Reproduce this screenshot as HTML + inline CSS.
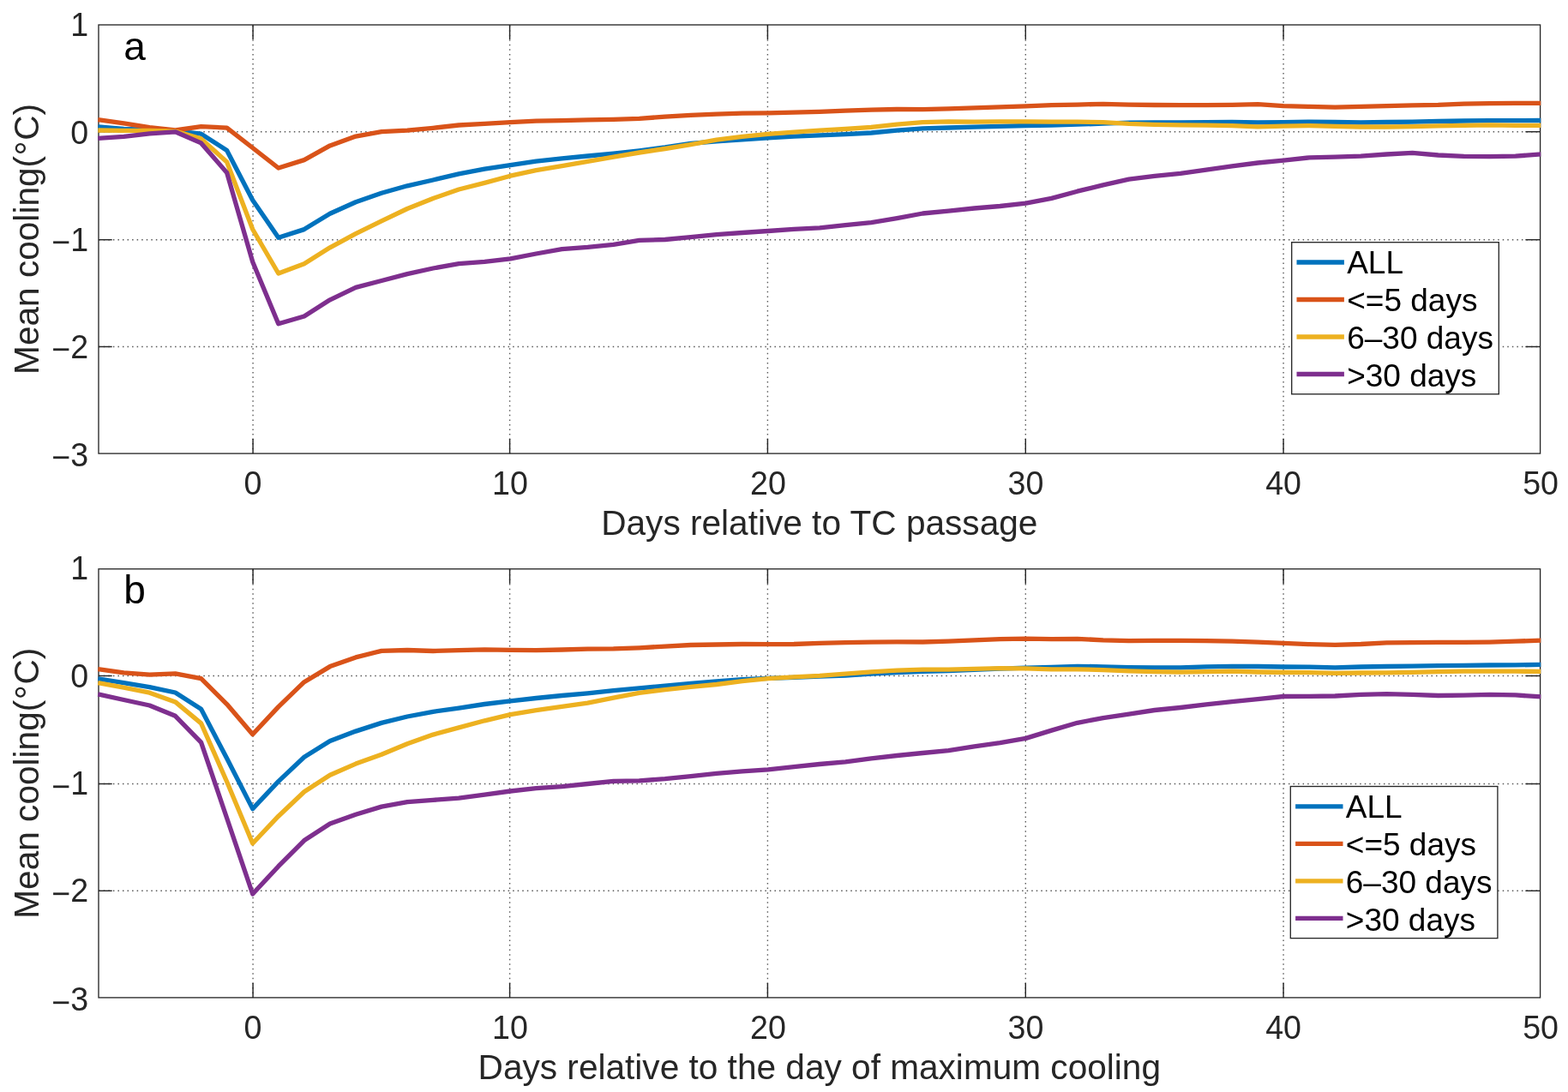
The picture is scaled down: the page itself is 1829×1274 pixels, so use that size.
<!DOCTYPE html>
<html lang="en">
<head>
<meta charset="utf-8">
<title>Mean cooling relative to TC passage</title>
<style>
html,body{margin:0;padding:0;background:#fff;}
body{width:1829px;height:1274px;overflow:hidden;}
svg{display:block;}
text{font-family:"Liberation Sans", Arial, Helvetica, sans-serif;fill:#262626;}
.tick{font-size:37.6px;}
.lab{font-size:40.6px;}
.leg{font-size:37px;fill:#000;}
.panel{font-size:46px;fill:#000;}
.ax{stroke:#262626;stroke-width:1.33;fill:none;}
.tk{stroke:#262626;stroke-width:1.45;fill:none;}
.grid{stroke:#595959;stroke-width:1.4;fill:none;}
.gh{stroke-dasharray:1.5 4.0508;}
.gv{stroke-dasharray:1.5 4.0391;}
.ln{fill:none;stroke-width:5.33;stroke-linejoin:round;stroke-linecap:butt;}
</style>
</head>
<body>
<svg xmlns="http://www.w3.org/2000/svg" width="1829" height="1274" viewBox="0 0 1829 1274">
<rect x="0" y="0" width="1829" height="1274" fill="#fff"/>
<defs>
<clipPath id="clip-a"><rect x="112" y="28.33" width="1685.3" height="501.43"/></clipPath>
<clipPath id="clip-b"><rect x="112" y="663.13" width="1685.3" height="501.43"/></clipPath>
</defs>
<g id="panel-a">
<line class="grid gv" x1="295.07" y1="29.65" x2="295.07" y2="529.1"/>
<line class="grid gv" x1="594.6" y1="29.65" x2="594.6" y2="529.1"/>
<line class="grid gv" x1="895.4" y1="29.65" x2="895.4" y2="529.1"/>
<line class="grid gv" x1="1196.3" y1="29.65" x2="1196.3" y2="529.1"/>
<line class="grid gv" x1="1497.06" y1="29.65" x2="1497.06" y2="529.1"/>
<line class="grid gh" x1="115.24" y1="153.7" x2="1796.6" y2="153.7"/>
<line class="grid gh" x1="115.24" y1="279.7" x2="1796.6" y2="279.7"/>
<line class="grid gh" x1="115.24" y1="404.5" x2="1796.6" y2="404.5"/>
<rect class="ax" x="115" y="29" width="1681.6" height="500.1"/>
<line class="tk" x1="295.07" y1="529.1" x2="295.07" y2="512"/>
<line class="tk" x1="295.07" y1="29" x2="295.07" y2="46.1"/>
<line class="tk" x1="594.6" y1="529.1" x2="594.6" y2="512"/>
<line class="tk" x1="594.6" y1="29" x2="594.6" y2="46.1"/>
<line class="tk" x1="895.4" y1="529.1" x2="895.4" y2="512"/>
<line class="tk" x1="895.4" y1="29" x2="895.4" y2="46.1"/>
<line class="tk" x1="1196.3" y1="529.1" x2="1196.3" y2="512"/>
<line class="tk" x1="1196.3" y1="29" x2="1196.3" y2="46.1"/>
<line class="tk" x1="1497.06" y1="529.1" x2="1497.06" y2="512"/>
<line class="tk" x1="1497.06" y1="29" x2="1497.06" y2="46.1"/>
<line class="tk" x1="115" y1="153.7" x2="130.7" y2="153.7"/>
<line class="tk" x1="1796.6" y1="153.7" x2="1779.4" y2="153.7"/>
<line class="tk" x1="115" y1="279.7" x2="130.7" y2="279.7"/>
<line class="tk" x1="1796.6" y1="279.7" x2="1779.4" y2="279.7"/>
<line class="tk" x1="115" y1="404.5" x2="130.7" y2="404.5"/>
<line class="tk" x1="1796.6" y1="404.5" x2="1779.4" y2="404.5"/>
<g clip-path="url(#clip-a)">
<polyline class="ln" stroke="#0072BD" points="114.33,148 144.39,150.3 174.45,151.5 204.51,152.9 234.58,156.2 264.64,175.5 294.7,233.4 324.76,277.2 354.82,267.6 384.89,249.2 414.95,235.7 445.01,225.3 475.07,216.8 505.13,210 535.2,202.9 565.26,197.2 595.32,192.6 625.38,188.1 655.44,184.8 685.51,182 715.57,179.1 745.63,175.8 775.69,172 805.75,167.4 835.82,164.9 865.88,162.9 895.94,160.8 926,159.1 956.06,157.8 986.13,156.6 1016.19,155 1046.25,152.2 1076.31,149.9 1106.37,149 1136.44,148.2 1166.5,147.4 1196.56,146.5 1226.62,146 1256.68,145.2 1286.75,144.1 1316.81,143.2 1346.87,142.9 1376.93,143 1406.99,142.7 1437.06,142.5 1467.12,142.8 1497.18,142.7 1527.24,142.1 1557.3,142.5 1587.37,143 1617.43,142.5 1647.49,142.1 1677.55,141.5 1707.61,141 1737.68,140.6 1767.74,140.6 1797.8,140.5"/>
<polyline class="ln" stroke="#D95319" points="114.33,139.6 144.39,143.8 174.45,148.7 204.51,152 234.58,147.6 264.64,149.1 294.7,172.5 324.76,196 354.82,186.6 384.89,169.9 414.95,159.1 445.01,153.6 475.07,152.1 505.13,149.3 535.2,146 565.26,144.4 595.32,142.7 625.38,141.1 655.44,140.6 685.51,139.9 715.57,139.4 745.63,138.3 775.69,136.1 805.75,134.4 835.82,133.1 865.88,132.2 895.94,131.9 926,131.1 956.06,130.3 986.13,129.1 1016.19,128.1 1046.25,127.5 1076.31,127.6 1106.37,126.8 1136.44,125.9 1166.5,124.8 1196.56,123.8 1226.62,122.6 1256.68,122.1 1286.75,121.3 1316.81,122.1 1346.87,122.5 1376.93,122.7 1406.99,122.7 1437.06,122.4 1467.12,121.6 1497.18,123.6 1527.24,124.4 1557.3,125.1 1587.37,124.4 1617.43,123.6 1647.49,122.9 1677.55,122.4 1707.61,121.1 1737.68,120.6 1767.74,120.4 1797.8,120.3"/>
<polyline class="ln" stroke="#EDB120" points="114.33,152 144.39,152.3 174.45,152.3 204.51,153.1 234.58,161.9 264.64,189 294.7,267.5 324.76,319 354.82,307.7 384.89,288.8 414.95,272.7 445.01,257.9 475.07,243.5 505.13,231.5 535.2,221 565.26,213.3 595.32,205.2 625.38,198.6 655.44,193.6 685.51,188.3 715.57,183.2 745.63,178 775.69,173.5 805.75,168.6 835.82,163.2 865.88,159.4 895.94,156.3 926,154.2 956.06,152.2 986.13,150.5 1016.19,148.4 1046.25,145.1 1076.31,142.6 1106.37,141.9 1136.44,142.1 1166.5,141.9 1196.56,141.9 1226.62,142.2 1256.68,142.1 1286.75,142.7 1316.81,144.4 1346.87,145.3 1376.93,145.8 1406.99,146.1 1437.06,146.6 1467.12,147.8 1497.18,147.1 1527.24,146.6 1557.3,147.3 1587.37,148 1617.43,148 1647.49,147.6 1677.55,146.8 1707.61,146.3 1737.68,145.9 1767.74,146.3 1797.8,146.4"/>
<polyline class="ln" stroke="#7E2F8E" points="114.33,161.4 144.39,159.3 174.45,155.9 204.51,153.8 234.58,166.9 264.64,201.5 294.7,305.5 324.76,377.7 354.82,369 384.89,349.8 414.95,335.4 445.01,327.5 475.07,319.6 505.13,313 535.2,307.6 565.26,305.4 595.32,301.8 625.38,296 655.44,290.6 685.51,288.3 715.57,285.3 745.63,280.4 775.69,279.5 805.75,276.6 835.82,273.7 865.88,271.5 895.94,269.5 926,267.4 956.06,265.8 986.13,262.6 1016.19,259.7 1046.25,254.6 1076.31,249 1106.37,246.1 1136.44,243 1166.5,240.5 1196.56,237.2 1226.62,231.4 1256.68,223.2 1286.75,215.8 1316.81,209.2 1346.87,205.3 1376.93,202.3 1406.99,198.2 1437.06,193.8 1467.12,190 1497.18,187.2 1527.24,183.9 1557.3,183.2 1587.37,182.2 1617.43,180 1647.49,178.3 1677.55,181 1707.61,182.4 1737.68,182.7 1767.74,182.2 1797.8,179.9"/>
</g>
<text class="tick" text-anchor="middle" transform="translate(295 576.9) scale(1 1.04)">0</text>
<text class="tick" text-anchor="middle" transform="translate(595 576.9) scale(1 1.04)">10</text>
<text class="tick" text-anchor="middle" transform="translate(895.9 576.9) scale(1 1.04)">20</text>
<text class="tick" text-anchor="middle" transform="translate(1196.5 576.9) scale(1 1.04)">30</text>
<text class="tick" text-anchor="middle" transform="translate(1497.1 576.9) scale(1 1.04)">40</text>
<text class="tick" text-anchor="middle" transform="translate(1797.1 576.9) scale(1 1.04)">50</text>
<text class="tick" text-anchor="end" transform="translate(103.1 41.6) scale(1 1.04)">1</text>
<text class="tick" text-anchor="end" transform="translate(103.1 167.62) scale(1 1.04)">0</text>
<text class="tick" text-anchor="end" transform="translate(103.1 292.65) scale(1 1.04)"><tspan dy="3.3">−</tspan><tspan dy="-3.3" dx="0">1</tspan></text>
<text class="tick" text-anchor="end" transform="translate(103.1 417.68) scale(1 1.04)"><tspan dy="3.3">−</tspan><tspan dy="-3.3" dx="0">2</tspan></text>
<text class="tick" text-anchor="end" transform="translate(103.1 543.9) scale(1 1.04)"><tspan dy="3.3">−</tspan><tspan dy="-3.3" dx="0">3</tspan></text>
<text class="lab" text-anchor="middle" transform="translate(955.8 624.3) scale(1 1.02)">Days relative to TC passage</text>
<text class="lab" transform="translate(45.2 436.9) rotate(-90) scale(1 1.02)">Mean cooling(<tspan font-size="43px" dx="0.5" dy="3.85">°</tspan><tspan dx="0.5" dy="-3.85">C)</tspan></text>
<text class="panel" x="144.3" y="69.5">a</text>
<rect class="ax" style="fill:#fff" x="1506.7" y="282.7" width="241.6" height="177.1"/>
<line class="ln" stroke="#0072BD" x1="1512.5" y1="306" x2="1567.9" y2="306"/>
<text class="leg" transform="translate(1571.2 319.3) scale(1 1.02)">ALL</text>
<line class="ln" stroke="#D95319" x1="1512.5" y1="349.5" x2="1567.9" y2="349.5"/>
<text class="leg" transform="translate(1571.2 363.1) scale(1 1.02)">&lt;=5 days</text>
<line class="ln" stroke="#EDB120" x1="1512.5" y1="393" x2="1567.9" y2="393"/>
<text class="leg" transform="translate(1571.2 406.9) scale(1 1.02)">6–30 days</text>
<line class="ln" stroke="#7E2F8E" x1="1512.5" y1="436.5" x2="1567.9" y2="436.5"/>
<text class="leg" transform="translate(1571.2 450.7) scale(1 1.02)">&gt;30 days</text>
</g>
<g id="panel-b">
<line class="grid gv" x1="295.07" y1="664.48" x2="295.07" y2="1163.9"/>
<line class="grid gv" x1="594.6" y1="664.48" x2="594.6" y2="1163.9"/>
<line class="grid gv" x1="895.4" y1="664.48" x2="895.4" y2="1163.9"/>
<line class="grid gv" x1="1196.3" y1="664.48" x2="1196.3" y2="1163.9"/>
<line class="grid gv" x1="1497.06" y1="664.48" x2="1497.06" y2="1163.9"/>
<line class="grid gh" x1="115.24" y1="788.5" x2="1796.6" y2="788.5"/>
<line class="grid gh" x1="115.24" y1="914.5" x2="1796.6" y2="914.5"/>
<line class="grid gh" x1="115.24" y1="1039.3" x2="1796.6" y2="1039.3"/>
<rect class="ax" x="115" y="663.8" width="1681.6" height="500.1"/>
<line class="tk" x1="295.07" y1="1163.9" x2="295.07" y2="1146.8"/>
<line class="tk" x1="295.07" y1="663.8" x2="295.07" y2="680.9"/>
<line class="tk" x1="594.6" y1="1163.9" x2="594.6" y2="1146.8"/>
<line class="tk" x1="594.6" y1="663.8" x2="594.6" y2="680.9"/>
<line class="tk" x1="895.4" y1="1163.9" x2="895.4" y2="1146.8"/>
<line class="tk" x1="895.4" y1="663.8" x2="895.4" y2="680.9"/>
<line class="tk" x1="1196.3" y1="1163.9" x2="1196.3" y2="1146.8"/>
<line class="tk" x1="1196.3" y1="663.8" x2="1196.3" y2="680.9"/>
<line class="tk" x1="1497.06" y1="1163.9" x2="1497.06" y2="1146.8"/>
<line class="tk" x1="1497.06" y1="663.8" x2="1497.06" y2="680.9"/>
<line class="tk" x1="115" y1="788.5" x2="130.7" y2="788.5"/>
<line class="tk" x1="1796.6" y1="788.5" x2="1779.4" y2="788.5"/>
<line class="tk" x1="115" y1="914.5" x2="130.7" y2="914.5"/>
<line class="tk" x1="1796.6" y1="914.5" x2="1779.4" y2="914.5"/>
<line class="tk" x1="115" y1="1039.3" x2="130.7" y2="1039.3"/>
<line class="tk" x1="1796.6" y1="1039.3" x2="1779.4" y2="1039.3"/>
<g clip-path="url(#clip-b)">
<polyline class="ln" stroke="#0072BD" points="114.33,791.8 144.39,796.7 174.45,801.6 204.51,808 234.58,827.2 264.64,884.8 294.7,943.6 324.76,911.6 354.82,883.2 384.89,864.6 414.95,853.1 445.01,843.4 475.07,836 505.13,830.3 535.2,826.1 565.26,821.5 595.32,817.9 625.38,814.5 655.44,811.5 685.51,808.8 715.57,805.6 745.63,802.8 775.69,800.2 805.75,797.4 835.82,795 865.88,792.6 895.94,791.4 926,790.3 956.06,789.2 986.13,788.2 1016.19,786.2 1046.25,784.6 1076.31,783.4 1106.37,782.5 1136.44,781.3 1166.5,780.2 1196.56,779.2 1226.62,778.3 1256.68,777.3 1286.75,777.8 1316.81,778.6 1346.87,778.9 1376.93,778.9 1406.99,777.8 1437.06,777.3 1467.12,777.5 1497.18,778 1527.24,778.1 1557.3,778.8 1587.37,778 1617.43,777.5 1647.49,777.2 1677.55,776.7 1707.61,776.4 1737.68,776 1767.74,775.9 1797.8,775.4"/>
<polyline class="ln" stroke="#D95319" points="114.33,780.6 144.39,784.9 174.45,787.2 204.51,785.9 234.58,791.6 264.64,821.6 294.7,856.7 324.76,824.6 354.82,795.7 384.89,777.6 414.95,766.9 445.01,759.3 475.07,758.5 505.13,759.5 535.2,758.7 565.26,757.9 595.32,758.4 625.38,758.7 655.44,758 685.51,757.2 715.57,756.9 745.63,755.8 775.69,754.1 805.75,752.5 835.82,752 865.88,751.5 895.94,751.7 926,751.5 956.06,750.4 986.13,749.6 1016.19,749.1 1046.25,748.8 1076.31,749 1106.37,748.1 1136.44,746.8 1166.5,745.7 1196.56,745.2 1226.62,745.7 1256.68,745.3 1286.75,746.9 1316.81,747.7 1346.87,747.4 1376.93,747.4 1406.99,747.7 1437.06,748.2 1467.12,749.1 1497.18,750.4 1527.24,751.7 1557.3,752.4 1587.37,751.5 1617.43,749.9 1647.49,749.6 1677.55,749.4 1707.61,749.4 1737.68,749.1 1767.74,748.2 1797.8,747.1"/>
<polyline class="ln" stroke="#EDB120" points="114.33,796.7 144.39,802.2 174.45,808.2 204.51,818.9 234.58,843.9 264.64,912 294.7,984 324.76,952.2 354.82,923.7 384.89,904.2 414.95,891.1 445.01,880.3 475.07,867.8 505.13,857.1 535.2,848.9 565.26,840.8 595.32,833.7 625.38,828.7 655.44,824.3 685.51,820.1 715.57,814.1 745.63,808.3 775.69,804.6 805.75,801.4 835.82,798.5 865.88,794.7 895.94,791.7 926,789.8 956.06,788.3 986.13,786.1 1016.19,783.8 1046.25,782.2 1076.31,781.2 1106.37,781.2 1136.44,780.4 1166.5,779.6 1196.56,779.9 1226.62,780.8 1256.68,780.8 1286.75,781.6 1316.81,782.8 1346.87,783.6 1376.93,784.1 1406.99,783.6 1437.06,783.2 1467.12,784 1497.18,784.5 1527.24,784.6 1557.3,785.3 1587.37,785 1617.43,784.8 1647.49,784.3 1677.55,783.7 1707.61,783.2 1737.68,783.2 1767.74,783.2 1797.8,783.3"/>
<polyline class="ln" stroke="#7E2F8E" points="114.33,809.9 144.39,816.5 174.45,823 204.51,835.3 234.58,866.1 264.64,954.5 294.7,1043 324.76,1010.7 354.82,980.6 384.89,961 414.95,950.2 445.01,941.1 475.07,935.6 505.13,933.3 535.2,931.2 565.26,927.1 595.32,923 625.38,919.7 655.44,917.6 685.51,914.5 715.57,911.4 745.63,910.9 775.69,908.6 805.75,905.6 835.82,902.3 865.88,899.8 895.94,897.8 926,894.6 956.06,891.5 986.13,888.9 1016.19,884.8 1046.25,881.5 1076.31,878.5 1106.37,875.7 1136.44,870.8 1166.5,866.6 1196.56,861.4 1226.62,852.1 1256.68,843.3 1286.75,837.6 1316.81,833.1 1346.87,828.5 1376.93,825.5 1406.99,821.9 1437.06,818.6 1467.12,815.7 1497.18,812.5 1527.24,812.4 1557.3,812 1587.37,810.4 1617.43,809.6 1647.49,810.4 1677.55,811.5 1707.61,811.2 1737.68,810.4 1767.74,810.9 1797.8,812.9"/>
</g>
<text class="tick" text-anchor="middle" transform="translate(295 1211.7) scale(1 1.04)">0</text>
<text class="tick" text-anchor="middle" transform="translate(595 1211.7) scale(1 1.04)">10</text>
<text class="tick" text-anchor="middle" transform="translate(895.9 1211.7) scale(1 1.04)">20</text>
<text class="tick" text-anchor="middle" transform="translate(1196.5 1211.7) scale(1 1.04)">30</text>
<text class="tick" text-anchor="middle" transform="translate(1497.1 1211.7) scale(1 1.04)">40</text>
<text class="tick" text-anchor="middle" transform="translate(1797.1 1211.7) scale(1 1.04)">50</text>
<text class="tick" text-anchor="end" transform="translate(103.1 676.4) scale(1 1.04)">1</text>
<text class="tick" text-anchor="end" transform="translate(103.1 802.43) scale(1 1.04)">0</text>
<text class="tick" text-anchor="end" transform="translate(103.1 927.45) scale(1 1.04)"><tspan dy="3.3">−</tspan><tspan dy="-3.3" dx="0">1</tspan></text>
<text class="tick" text-anchor="end" transform="translate(103.1 1052.47) scale(1 1.04)"><tspan dy="3.3">−</tspan><tspan dy="-3.3" dx="0">2</tspan></text>
<text class="tick" text-anchor="end" transform="translate(103.1 1179.1) scale(1 1.04)"><tspan dy="3.3">−</tspan><tspan dy="-3.3" dx="0">3</tspan></text>
<text class="lab" text-anchor="middle" transform="translate(955.8 1259.1) scale(1 1.02)">Days relative to the day of maximum cooling</text>
<text class="lab" transform="translate(45.2 1071.7) rotate(-90) scale(1 1.02)">Mean cooling(<tspan font-size="43px" dx="0.5" dy="3.85">°</tspan><tspan dx="0.5" dy="-3.85">C)</tspan></text>
<text class="panel" x="144.3" y="704.3">b</text>
<rect class="ax" style="fill:#fff" x="1505.3" y="917.5" width="241.6" height="177.1"/>
<line class="ln" stroke="#0072BD" x1="1511.1" y1="940.8" x2="1566.5" y2="940.8"/>
<text class="leg" transform="translate(1569.8 954.1) scale(1 1.02)">ALL</text>
<line class="ln" stroke="#D95319" x1="1511.1" y1="984.3" x2="1566.5" y2="984.3"/>
<text class="leg" transform="translate(1569.8 997.9) scale(1 1.02)">&lt;=5 days</text>
<line class="ln" stroke="#EDB120" x1="1511.1" y1="1027.8" x2="1566.5" y2="1027.8"/>
<text class="leg" transform="translate(1569.8 1041.7) scale(1 1.02)">6–30 days</text>
<line class="ln" stroke="#7E2F8E" x1="1511.1" y1="1071.3" x2="1566.5" y2="1071.3"/>
<text class="leg" transform="translate(1569.8 1085.5) scale(1 1.02)">&gt;30 days</text>
</g>
</svg>
</body>
</html>
